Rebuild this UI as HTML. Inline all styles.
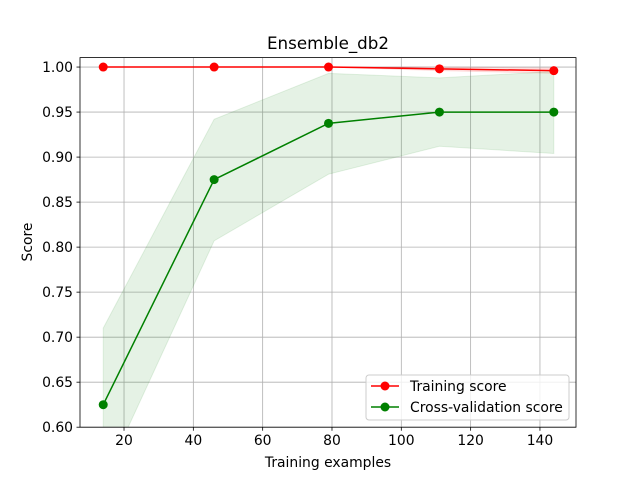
<!DOCTYPE html>
<html><head><meta charset="utf-8"><style>
body{margin:0;background:#fff}
svg text{font-family:"DejaVu Sans","Liberation Sans",sans-serif;fill:#000}
</style></head><body>
<svg width="640" height="480" viewBox="0 0 640 480">
<defs><clipPath id="clip"><rect x="80" y="57.6" width="496" height="369.6"/></clipPath></defs>
<rect width="640" height="480" fill="#fff"/>
<g id="grid"></g>
<g id="bands" clip-path="url(#clip)"></g>
<g id="lines" clip-path="url(#clip)"></g>
<g id="axes"></g>
<text x="328" y="49" font-size="16.7" text-anchor="middle">Ensemble_db2</text>
<text x="328" y="467" font-size="13.9" text-anchor="middle">Training examples</text>
<text x="32" y="242" font-size="13.9" text-anchor="middle" transform="rotate(-90 32 242)">Score</text>
<g>
<rect x="366" y="375" width="203" height="45" rx="3" fill="#fff" fill-opacity="0.8" stroke="#ccc"/>
<line x1="371" y1="386" x2="399" y2="386" stroke="red" stroke-width="1.5"/>
<circle cx="385" cy="386" r="4.5" fill="red"/>
<text x="410" y="391" font-size="13.9">Training score</text>
<line x1="371" y1="407" x2="399" y2="407" stroke="green" stroke-width="1.5"/>
<circle cx="385" cy="407" r="4.5" fill="green"/>
<text x="410" y="412" font-size="13.9">Cross-validation score</text>
</g>
</svg>
<script>
const sizes=[14,46,79,111,144];
const trainMean=[1,1,1,0.998,0.996];
const trainLow=[1,1,1,0.996,0.993];
const trainHigh=[1,1,1,1,0.999];
const cvMean=[0.625,0.875,0.9375,0.95,0.95];
const cvLow=[0.54,0.807,0.881,0.912,0.904];
const cvHigh=[0.71,0.942,0.993,0.988,0.995];
const xTicks=[20,40,60,80,100,120,140];
const yTicks=[0.60,0.65,0.70,0.75,0.80,0.85,0.90,0.95,1.00];
const L=80,R=576,T=57.6,B=427.2,x0=7.3,x1=150.4,y0=0.6,y1=1.0105;
const sx=v=>L+(v-x0)/(x1-x0)*(R-L);
const sy=v=>B-(v-y0)/(y1-y0)*(B-T);
const NS="http://www.w3.org/2000/svg";
function mk(tag,attrs,parent){const e=document.createElementNS(NS,tag);for(const k in attrs)e.setAttribute(k,attrs[k]);parent.appendChild(e);return e;}
const grid=document.getElementById('grid'),axes=document.getElementById('axes'),bands=document.getElementById('bands'),lines=document.getElementById('lines');
xTicks.forEach(t=>{const x=sx(t);
let g=mk('line',{x1:x,x2:x,y1:T,y2:B,stroke:'#b0b0b0','stroke-width':0.8},grid);


let tk=mk('line',{x1:x,x2:x,y1:B,y2:B+3.5,stroke:'#000','stroke-width':0.8},axes);


let tx=mk('text',{x:x,y:B+18,'font-size':13.9,'text-anchor':'middle'},axes);tx.textContent=t;

});
yTicks.forEach(t=>{const y=sy(t);
let g=mk('line',{x1:L,x2:R,y1:y,y2:y,stroke:'#b0b0b0','stroke-width':0.8},grid);


let tk=mk('line',{x1:L-3.5,x2:L,y1:y,y2:y,stroke:'#000','stroke-width':0.8},axes);


let tx=mk('text',{x:L-7,y:y+5,'font-size':13.9,'text-anchor':'end'},axes);tx.textContent=t.toFixed(2);

});
let fr=mk('rect',{x:L,y:T,width:R-L,height:B-T,fill:'none',stroke:'#000','stroke-width':0.8},axes);


function band(lo,hi,color,name){const pts=sizes.map((s,i)=>sx(s)+','+sy(hi[i])).concat(sizes.map((s,i)=>sx(s)+','+sy(lo[i])).reverse());
const p=mk('polygon',{points:pts.join(' '),fill:color,'fill-opacity':0.1,stroke:color,'stroke-opacity':0.1},bands);

}
band(trainLow,trainHigh,'red','training-std-band');
band(cvLow,cvHigh,'green','cv-std-band');
function series(vals,color,name){const p=mk('polyline',{points:sizes.map((s,i)=>sx(s)+','+sy(vals[i])).join(' '),fill:'none',stroke:color,'stroke-width':1.5},lines);


sizes.forEach((s,i)=>{const c=mk('circle',{cx:sx(s),cy:sy(vals[i]),r:4.5,fill:color},lines);

});}
series(trainMean,'red','training-score');
series(cvMean,'green','cv-score');
</script>
</body></html>
